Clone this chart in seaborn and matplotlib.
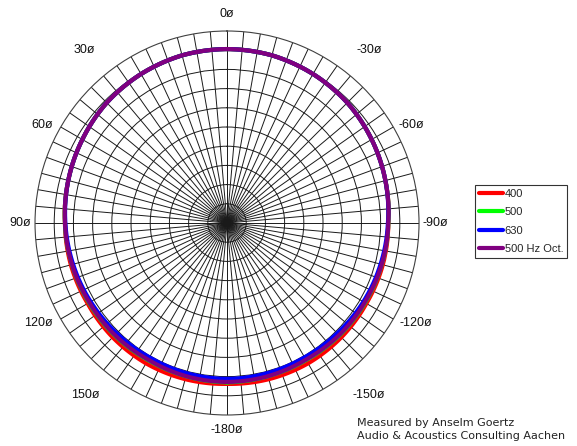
import numpy as np
import pandas as pd
import matplotlib
matplotlib.use("Agg")
import matplotlib.pyplot as plt
import seaborn as sns

# angles in degrees (0 = front, counter-clockwise positive), level in dB
angles = [-180, -165, -150, -135, -120, -105, -90, -75, -60, -45, -30, -15, 0,
          15, 30, 45, 60, 75, 90, 105, 120, 135, 150, 165, 180]
lvl_400 = [-8.1, -7.9, -7.8, -7.9, -8.1, -8.0, -8.0, -7.3, -6.5, -5.7, -5.2, -4.8, -4.7,
           -4.8, -5.2, -5.7, -6.5, -7.2, -7.8, -7.9, -8.1, -7.9, -7.8, -7.9, -8.1]
lvl_500 = [-8.5, -8.7, -8.8, -8.6, -8.5, -8.3, -8.0, -7.3, -6.5, -5.7, -5.2, -4.8, -4.7,
           -4.8, -5.2, -5.7, -6.5, -7.2, -7.8, -8.2, -8.5, -8.6, -8.8, -8.7, -8.5]
lvl_630 = [-9.4, -9.5, -9.6, -9.4, -9.0, -8.6, -8.1, -7.3, -6.5, -5.7, -5.2, -4.8, -4.7,
           -4.8, -5.2, -5.7, -6.5, -7.2, -7.9, -8.5, -9.0, -9.4, -9.6, -9.5, -9.4]
lvl_oct = [-8.6, -8.7, -8.9, -8.7, -8.6, -8.3, -8.0, -7.3, -6.5, -5.7, -5.2, -4.8, -4.7,
           -4.8, -5.2, -5.7, -6.5, -7.2, -7.8, -8.2, -8.6, -8.7, -8.9, -8.7, -8.6]
series_names = ["400", "500", "630", "500 Hz Oct."]
series_colors = ["#ff0000", "#00ff00", "#0000ff", "#800080"]

tick_labels = ["0ø", "30ø", "60ø", "90ø", "120ø", "150ø", "-180ø",
               "-150ø", "-120ø", "-90ø", "-60ø", "-30ø"]
# where the original tool puts each angle label (angle, radius beyond 0 dB)
label_theta = [0, 39.5, 62, 90, 118, 140.5, 180, 219.5, 242, 270, 298, 320.5]
label_r = [4.4, 8.3, 4.5, 3.9, 5.7, 8.1, 3.9, 8.1, 5.7, 4.2, 4.5, 8.3]

rows = []
for name, vals in zip(series_names, [lvl_400, lvl_500, lvl_630, lvl_oct]):
    for a, v in zip(angles, vals):
        rows.append({"theta": np.deg2rad(a), "db": v, "series": name})
df = pd.DataFrame(rows)

sns.set_style("white")
plt.rcParams['font.family'] = ['Liberation Sans', 'DejaVu Sans']

fig = plt.figure(figsize=(5.77, 4.46), dpi=100)
ax = fig.add_axes([0.0607, 0.0695, 0.6655, 0.861], projection='polar')
ax.set_theta_zero_location('N')
ax.set_theta_direction(1)

sns.lineplot(data=df, x='theta', y='db', hue='series', hue_order=series_names,
             palette=series_colors, linewidth=3, sort=False, estimator=None,
             ax=ax, legend=False, zorder=3)
# draw segments as arcs in polar space instead of straight chords
for ln in ax.lines:
    ln.get_path()._interpolation_steps = 30

ax.set_ylim(-50, 0)
ax.set_yticks(np.arange(-45, 0, 5))
ax.set_yticklabels([])
ax.set_xticks(np.deg2rad(np.arange(0, 360, 5)))
ax.set_xticklabels([])
ax.grid(True, color='#1a1a1a', linewidth=0.7)
ax.spines['polar'].set_color('#404040')
ax.spines['polar'].set_linewidth(0.8)
ax.set_xlabel('')
ax.set_ylabel('')

for th, rr, lab in zip(label_theta, label_r, tick_labels):
    ax.text(np.deg2rad(th), rr, lab, ha='center', va='center', fontsize=9,
            color='#111111', clip_on=False)

handles = [plt.Line2D([], [], color=c, linewidth=3) for c in series_colors]
leg = fig.legend(handles, series_names, loc='upper left',
                 bbox_to_anchor=(0.823, 0.585), fontsize=8, frameon=True,
                 fancybox=False, edgecolor='black', borderpad=0.35,
                 labelspacing=0.75, handlelength=2.2, handletextpad=0.15,
                 borderaxespad=0)
leg.get_frame().set_linewidth(0.8)

fig.text(357 / 577, 1 - 423 / 446, "Measured by Anselm Goertz",
         fontsize=8, family='DejaVu Sans', va='center', color='#222222')
fig.text(357 / 577, 1 - 436 / 446, "Audio & Acoustics Consulting Aachen",
         fontsize=8, family='DejaVu Sans', va='center', color='#222222')

fig.savefig('out.png', dpi=100)
